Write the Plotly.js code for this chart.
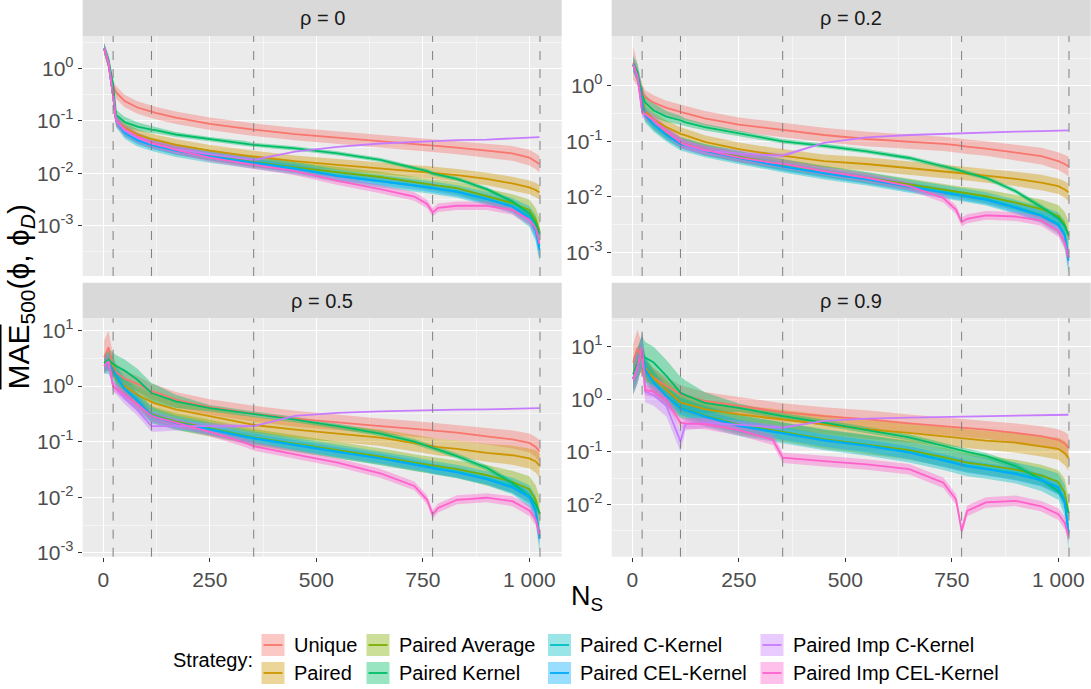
<!DOCTYPE html>
<html><head><meta charset="utf-8">
<script src="https://cdn.plot.ly/plotly-3.0.1.min.js"></script>
<style>html,body{margin:0;padding:0;background:#fff}#chart{width:1091px;height:689px}</style>
</head><body><div id="chart"></div>
<script>
// ---------- data ----------
const nS = [2, 12, 23, 30, 50, 80, 113, 125, 170, 250, 330, 353, 450, 550, 650, 730, 760, 773, 786, 830, 900, 960, 1000, 1015, 1024];
const strategies = ["Unique","Paired","Paired Average","Paired Kernel","Paired C-Kernel","Paired CEL-Kernel","Paired Imp C-Kernel","Paired Imp CEL-Kernel"];
const colors = ["#F8766D","#CD9600","#7CAE00","#00BE67","#00BFC4","#00A9FF","#C77CFF","#FF61CC"];
const facetLabels = ["ρ = 0","ρ = 0.2","ρ = 0.5","ρ = 0.9"];
const cutoffs = [23, 113, 353, 773, 1025];
const xTickVals = [0, 250, 500, 750, 1000];
const xTickText = ["0", "250", "500", "750", "1 000"];
const yTickVals = [0.001, 0.01, 0.1, 1, 10];
const yTickText = ["10<sup>-3</sup>", "10<sup>-2</sup>", "10<sup>-1</sup>", "10<sup>0</sup>", "10<sup>1</sup>"];

// rho = 0 : mean MAE
const r0_unique = [2.3, 1.2, 0.47, 0.35, 0.24, 0.18, 0.15, 0.14, 0.115, 0.088, 0.072, 0.068, 0.056, 0.048, 0.041, 0.036, 0.035, 0.034, 0.033, 0.031, 0.027, 0.024, 0.02, 0.017, 0.015];
const r0_paired = [2.4, 1.3, 0.3, 0.1, 0.075, 0.055, 0.045, 0.043, 0.035, 0.027, 0.022, 0.021, 0.017, 0.0145, 0.0125, 0.011, 0.0105, 0.0103, 0.01, 0.0092, 0.0078, 0.0064, 0.0054, 0.0048, 0.0043];
const r0_avg = [2.4, 1.3, 0.3, 0.1, 0.065, 0.047, 0.038, 0.036, 0.029, 0.022, 0.0175, 0.0165, 0.013, 0.0105, 0.0085, 0.0068, 0.0062, 0.006, 0.0058, 0.0052, 0.0037, 0.0027, 0.002, 0.0013, 0.0008];
const r0_kernel = [2.4, 1.5, 0.5, 0.13, 0.095, 0.078, 0.068, 0.066, 0.055, 0.045, 0.038, 0.035, 0.03, 0.024, 0.018, 0.0125, 0.011, 0.01, 0.0095, 0.0078, 0.005, 0.0029, 0.0017, 0.0011, 0.0007];
const r0_ck = [2.4, 1.3, 0.3, 0.1, 0.06, 0.043, 0.035, 0.033, 0.027, 0.021, 0.017, 0.016, 0.0125, 0.009, 0.0072, 0.006, 0.0055, 0.0053, 0.0051, 0.0045, 0.0033, 0.0024, 0.0015, 0.0009, 0.0004];
const r0_cel = [2.4, 1.3, 0.3, 0.1, 0.06, 0.043, 0.035, 0.033, 0.027, 0.021, 0.017, 0.016, 0.0122, 0.0088, 0.0071, 0.0059, 0.0054, 0.0052, 0.005, 0.0044, 0.0032, 0.0023, 0.0014, 0.0008, 0.00035];
const r0_impc = [2.4, 1.3, 0.3, 0.1, 0.065, 0.047, 0.037, 0.035, 0.029, 0.023, 0.019, 0.018, 0.026, 0.032, 0.037, 0.04, 0.041, 0.041, 0.042, 0.043, 0.044, 0.046, 0.048, 0.049, 0.049];
const r0_impcel = [2.4, 1.3, 0.3, 0.1, 0.07, 0.05, 0.038, 0.036, 0.028, 0.02, 0.0155, 0.0145, 0.011, 0.0072, 0.005, 0.0036, 0.0026, 0.0018, 0.0022, 0.0024, 0.0024, 0.002, 0.0013, 0.0009, 0.00045];
// rho = 0 : ribbon half-width (log10 units)
const r0_unique_w = [0.1, 0.1, 0.1, 0.12, 0.12, 0.12, 0.12, 0.12, 0.12, 0.12, 0.12, 0.12, 0.12, 0.12, 0.12, 0.12, 0.12, 0.12, 0.12, 0.13, 0.13, 0.14, 0.15, 0.15, 0.16];
const r0_paired_w = [0.1, 0.1, 0.1, 0.1, 0.1, 0.1, 0.1, 0.1, 0.11, 0.11, 0.11, 0.11, 0.11, 0.11, 0.11, 0.11, 0.12, 0.12, 0.12, 0.12, 0.12, 0.13, 0.13, 0.14, 0.14];
const r0_avg_w = [0.1, 0.1, 0.1, 0.1, 0.1, 0.1, 0.1, 0.1, 0.1, 0.1, 0.1, 0.1, 0.1, 0.1, 0.1, 0.1, 0.1, 0.1, 0.11, 0.12, 0.14, 0.17, 0.2, 0.22, 0.24];
const r0_kernel_w = [0.1, 0.1, 0.1, 0.1, 0.1, 0.08, 0.07, 0.06, 0.05, 0.04, 0.04, 0.04, 0.04, 0.04, 0.04, 0.04, 0.04, 0.04, 0.04, 0.04, 0.04, 0.04, 0.05, 0.05, 0.06];
const r0_ck_w = [0.1, 0.1, 0.12, 0.12, 0.12, 0.12, 0.12, 0.12, 0.12, 0.12, 0.12, 0.12, 0.12, 0.12, 0.12, 0.12, 0.12, 0.12, 0.12, 0.12, 0.13, 0.15, 0.2, 0.25, 0.3];
const r0_cel_w = [0.08, 0.08, 0.08, 0.08, 0.08, 0.08, 0.08, 0.08, 0.08, 0.08, 0.08, 0.08, 0.08, 0.08, 0.08, 0.08, 0.08, 0.08, 0.08, 0.08, 0.09, 0.1, 0.12, 0.15, 0.2];
const r0_impc_w = [0.1, 0.1, 0.1, 0.1, 0.1, 0.1, 0.09, 0.09, 0.08, 0.07, 0.05, 0.04, 0, 0, 0, 0, 0, 0, 0, 0, 0, 0, 0, 0, 0];
const r0_impcel_w = [0.08, 0.08, 0.08, 0.08, 0.08, 0.08, 0.08, 0.08, 0.08, 0.08, 0.08, 0.08, 0.08, 0.08, 0.08, 0.08, 0.08, 0.08, 0.08, 0.08, 0.08, 0.09, 0.1, 0.12, 0.15];

// rho = 0.2
const r2_unique = [2.6, 1.6, 0.8, 0.62, 0.5, 0.4, 0.34, 0.32, 0.26, 0.2, 0.168, 0.16, 0.13, 0.11, 0.1, 0.09, 0.085, 0.082, 0.08, 0.074, 0.063, 0.054, 0.044, 0.039, 0.035];
const r2_paired = [2.4, 1.5, 0.6, 0.35, 0.25, 0.18, 0.136, 0.128, 0.098, 0.072, 0.058, 0.055, 0.044, 0.039, 0.033, 0.029, 0.028, 0.027, 0.026, 0.024, 0.021, 0.018, 0.0155, 0.0135, 0.012];
const r2_avg = [2.4, 1.5, 0.5, 0.3, 0.2, 0.135, 0.095, 0.089, 0.07, 0.053, 0.041, 0.038, 0.029, 0.022, 0.0165, 0.0135, 0.0125, 0.012, 0.0115, 0.0102, 0.0078, 0.006, 0.0045, 0.0032, 0.002];
const r2_kernel = [2.5, 1.8, 0.7, 0.5, 0.36, 0.28, 0.24, 0.22, 0.18, 0.14, 0.108, 0.1, 0.083, 0.066, 0.05, 0.036, 0.031, 0.029, 0.027, 0.022, 0.0126, 0.0065, 0.0041, 0.003, 0.002];
const r2_ck = [2.4, 1.5, 0.5, 0.3, 0.2, 0.13, 0.09, 0.085, 0.068, 0.051, 0.039, 0.036, 0.027, 0.021, 0.0155, 0.0125, 0.0115, 0.011, 0.0105, 0.0092, 0.0066, 0.0047, 0.0033, 0.0021, 0.0008];
const r2_cel = [2.4, 1.5, 0.5, 0.3, 0.2, 0.13, 0.09, 0.085, 0.067, 0.05, 0.038, 0.035, 0.0265, 0.0205, 0.015, 0.012, 0.011, 0.0105, 0.01, 0.0088, 0.0063, 0.0045, 0.0031, 0.002, 0.0007];
const r2_impc = [2.4, 1.5, 0.35, 0.31, 0.24, 0.15, 0.096, 0.085, 0.068, 0.06, 0.056, 0.055, 0.094, 0.118, 0.13, 0.137, 0.14, 0.14, 0.141, 0.145, 0.15, 0.153, 0.156, 0.157, 0.158];
const r2_impcel = [2.4, 1.5, 0.35, 0.31, 0.24, 0.15, 0.096, 0.088, 0.07, 0.051, 0.041, 0.039, 0.029, 0.022, 0.0155, 0.0095, 0.0058, 0.0035, 0.004, 0.0046, 0.0044, 0.0037, 0.0024, 0.0015, 0.0008];
const r2_unique_w = [0.3, 0.2, 0.14, 0.13, 0.13, 0.13, 0.13, 0.13, 0.13, 0.13, 0.13, 0.13, 0.13, 0.13, 0.13, 0.13, 0.13, 0.13, 0.13, 0.13, 0.14, 0.15, 0.16, 0.17, 0.18];
const r2_paired_w = [0.12, 0.12, 0.12, 0.12, 0.12, 0.12, 0.12, 0.12, 0.12, 0.12, 0.12, 0.12, 0.12, 0.12, 0.12, 0.12, 0.12, 0.12, 0.12, 0.13, 0.13, 0.14, 0.14, 0.15, 0.16];
const r2_avg_w = [0.1, 0.1, 0.1, 0.1, 0.1, 0.1, 0.1, 0.1, 0.1, 0.1, 0.1, 0.1, 0.1, 0.1, 0.1, 0.1, 0.1, 0.1, 0.11, 0.12, 0.14, 0.17, 0.2, 0.22, 0.25];
const r2_kernel_w = [0.15, 0.15, 0.15, 0.15, 0.13, 0.1, 0.08, 0.07, 0.06, 0.05, 0.04, 0.04, 0.04, 0.04, 0.04, 0.04, 0.04, 0.04, 0.04, 0.04, 0.04, 0.05, 0.05, 0.06, 0.06];
const r2_ck_w = [0.12, 0.12, 0.14, 0.14, 0.13, 0.12, 0.12, 0.12, 0.12, 0.12, 0.12, 0.12, 0.12, 0.12, 0.12, 0.12, 0.12, 0.12, 0.12, 0.12, 0.13, 0.15, 0.2, 0.25, 0.3];
const r2_cel_w = [0.08, 0.08, 0.08, 0.08, 0.08, 0.08, 0.08, 0.08, 0.08, 0.08, 0.08, 0.08, 0.08, 0.08, 0.08, 0.08, 0.08, 0.08, 0.08, 0.08, 0.09, 0.1, 0.12, 0.15, 0.2];
const r2_impc_w = [0.12, 0.12, 0.12, 0.1, 0.1, 0.1, 0.09, 0.09, 0.08, 0.07, 0.05, 0.04, 0, 0, 0, 0, 0, 0, 0, 0, 0, 0, 0, 0, 0];
const r2_impcel_w = [0.08, 0.08, 0.08, 0.08, 0.08, 0.08, 0.08, 0.08, 0.08, 0.08, 0.08, 0.08, 0.08, 0.08, 0.08, 0.08, 0.08, 0.08, 0.08, 0.08, 0.08, 0.09, 0.1, 0.12, 0.15];

// rho = 0.5
const r5_unique = [3.3, 5.0, 2.3, 1.8, 1.35, 1.1, 0.8, 0.76, 0.57, 0.42, 0.34, 0.32, 0.26, 0.22, 0.19, 0.17, 0.162, 0.158, 0.155, 0.145, 0.125, 0.11, 0.095, 0.08, 0.067];
const r5_paired = [2.6, 3.0, 2.3, 1.4, 1.0, 0.7, 0.52, 0.48, 0.38, 0.29, 0.215, 0.2, 0.165, 0.14, 0.118, 0.094, 0.086, 0.082, 0.08, 0.074, 0.063, 0.057, 0.05, 0.044, 0.037];
const r5_avg = [2.4, 2.6, 2.0, 1.5, 0.9, 0.55, 0.31, 0.29, 0.23, 0.175, 0.13, 0.12, 0.092, 0.07, 0.054, 0.042, 0.039, 0.037, 0.036, 0.032, 0.025, 0.019, 0.014, 0.009, 0.005];
const r5_kernel = [2.6, 3.0, 2.5, 2.3, 1.9, 1.3, 0.75, 0.7, 0.53, 0.4, 0.33, 0.31, 0.25, 0.19, 0.14, 0.1, 0.085, 0.077, 0.072, 0.055, 0.034, 0.018, 0.0105, 0.0075, 0.0052];
const r5_ck = [2.4, 2.6, 2.0, 1.5, 0.9, 0.55, 0.3, 0.28, 0.22, 0.17, 0.125, 0.117, 0.089, 0.067, 0.051, 0.04, 0.036, 0.034, 0.033, 0.029, 0.022, 0.016, 0.0104, 0.006, 0.002];
const r5_cel = [2.4, 2.6, 2.0, 1.5, 0.9, 0.55, 0.29, 0.27, 0.215, 0.165, 0.122, 0.114, 0.087, 0.065, 0.05, 0.039, 0.035, 0.033, 0.032, 0.028, 0.021, 0.015, 0.01, 0.0055, 0.0018];
const r5_impc = [2.3, 2.8, 1.0, 0.9, 0.6, 0.37, 0.19, 0.19, 0.19, 0.19, 0.19, 0.19, 0.29, 0.33, 0.35, 0.365, 0.37, 0.37, 0.372, 0.376, 0.38, 0.39, 0.395, 0.4, 0.4];
const r5_impcel = [2.3, 2.8, 1.0, 0.9, 0.7, 0.47, 0.29, 0.27, 0.22, 0.15, 0.097, 0.083, 0.059, 0.042, 0.027, 0.016, 0.009, 0.0049, 0.0064, 0.009, 0.0098, 0.0085, 0.0058, 0.004, 0.0021];
const r5_unique_w = [0.3, 0.3, 0.2, 0.15, 0.14, 0.14, 0.14, 0.14, 0.14, 0.14, 0.14, 0.14, 0.14, 0.14, 0.14, 0.14, 0.14, 0.14, 0.14, 0.14, 0.15, 0.16, 0.17, 0.18, 0.2];
const r5_paired_w = [0.15, 0.15, 0.15, 0.15, 0.15, 0.15, 0.15, 0.15, 0.15, 0.15, 0.15, 0.15, 0.15, 0.15, 0.15, 0.15, 0.15, 0.15, 0.15, 0.15, 0.16, 0.17, 0.18, 0.2, 0.22];
const r5_avg_w = [0.15, 0.15, 0.15, 0.15, 0.15, 0.15, 0.15, 0.15, 0.15, 0.15, 0.15, 0.15, 0.15, 0.15, 0.15, 0.15, 0.15, 0.15, 0.15, 0.16, 0.18, 0.2, 0.23, 0.26, 0.3];
const r5_kernel_w = [0.15, 0.2, 0.2, 0.2, 0.2, 0.2, 0.18, 0.17, 0.12, 0.06, 0.05, 0.05, 0.05, 0.05, 0.05, 0.05, 0.05, 0.05, 0.05, 0.05, 0.05, 0.05, 0.05, 0.06, 0.06];
const r5_ck_w = [0.15, 0.2, 0.2, 0.2, 0.2, 0.18, 0.15, 0.14, 0.13, 0.12, 0.12, 0.12, 0.12, 0.12, 0.12, 0.12, 0.12, 0.12, 0.12, 0.12, 0.13, 0.15, 0.2, 0.25, 0.3];
const r5_cel_w = [0.09, 0.09, 0.09, 0.09, 0.09, 0.09, 0.09, 0.09, 0.09, 0.09, 0.09, 0.09, 0.09, 0.09, 0.09, 0.09, 0.09, 0.09, 0.09, 0.09, 0.09, 0.1, 0.12, 0.13, 0.15];
const r5_impc_w = [0.15, 0.15, 0.1, 0.1, 0.1, 0.1, 0.1, 0.1, 0.08, 0.06, 0.03, 0.02, 0, 0, 0, 0, 0, 0, 0, 0, 0, 0, 0, 0, 0];
const r5_impcel_w = [0.08, 0.08, 0.08, 0.08, 0.08, 0.08, 0.08, 0.08, 0.08, 0.08, 0.08, 0.08, 0.08, 0.08, 0.08, 0.08, 0.08, 0.08, 0.08, 0.08, 0.08, 0.09, 0.1, 0.11, 0.12];

// rho = 0.9
const r9_unique = [5, 9.5, 5.5, 3.5, 2.6, 1.8, 1.25, 1.18, 0.93, 0.75, 0.61, 0.57, 0.48, 0.42, 0.35, 0.31, 0.3, 0.29, 0.285, 0.265, 0.23, 0.2, 0.17, 0.145, 0.12];
const r9_paired = [3, 5, 7, 4, 2.5, 1.5, 0.87, 0.82, 0.65, 0.52, 0.44, 0.42, 0.34, 0.27, 0.23, 0.2, 0.185, 0.18, 0.177, 0.165, 0.15, 0.13, 0.115, 0.095, 0.078];
const r9_avg = [2.5, 4, 9, 3.7, 2.1, 1.15, 0.7, 0.65, 0.49, 0.33, 0.26, 0.24, 0.175, 0.138, 0.108, 0.08, 0.07, 0.066, 0.063, 0.056, 0.046, 0.036, 0.027, 0.017, 0.007];
const r9_kernel = [3, 5, 8, 6.2, 5.0, 2.8, 1.34, 1.2, 0.86, 0.69, 0.52, 0.48, 0.36, 0.26, 0.19, 0.13, 0.112, 0.105, 0.1, 0.084, 0.054, 0.03, 0.018, 0.012, 0.007];
const r9_ck = [2.5, 4, 9, 3.7, 2.1, 1.15, 0.69, 0.64, 0.48, 0.32, 0.25, 0.23, 0.17, 0.134, 0.1, 0.072, 0.062, 0.058, 0.055, 0.049, 0.04, 0.03, 0.022, 0.012, 0.003];
const r9_cel = [2.5, 4, 9, 3.7, 2.1, 1.15, 0.67, 0.62, 0.47, 0.31, 0.245, 0.225, 0.165, 0.13, 0.097, 0.07, 0.06, 0.056, 0.053, 0.047, 0.038, 0.029, 0.021, 0.011, 0.0028];
const r9_impc = [2.4, 4, 9.5, 1.4, 1.2, 0.75, 0.16, 0.34, 0.36, 0.33, 0.3, 0.29, 0.39, 0.43, 0.45, 0.46, 0.465, 0.47, 0.47, 0.475, 0.48, 0.49, 0.5, 0.505, 0.51];
const r9_impcel = [2.4, 4, 9.5, 1.5, 1.4, 0.95, 0.36, 0.35, 0.34, 0.26, 0.17, 0.078, 0.067, 0.058, 0.047, 0.026, 0.0125, 0.0032, 0.0076, 0.011, 0.0118, 0.0093, 0.0066, 0.0045, 0.0026];
const r9_unique_w = [0.35, 0.35, 0.3, 0.2, 0.18, 0.17, 0.17, 0.17, 0.17, 0.17, 0.17, 0.17, 0.17, 0.17, 0.17, 0.17, 0.17, 0.17, 0.17, 0.17, 0.18, 0.19, 0.2, 0.22, 0.25];
const r9_paired_w = [0.3, 0.3, 0.3, 0.2, 0.18, 0.18, 0.18, 0.18, 0.18, 0.18, 0.18, 0.18, 0.18, 0.18, 0.18, 0.18, 0.18, 0.18, 0.18, 0.18, 0.19, 0.2, 0.21, 0.23, 0.25];
const r9_avg_w = [0.3, 0.3, 0.3, 0.2, 0.2, 0.18, 0.18, 0.18, 0.18, 0.18, 0.18, 0.18, 0.18, 0.18, 0.18, 0.18, 0.18, 0.18, 0.18, 0.18, 0.19, 0.2, 0.22, 0.26, 0.3];
const r9_kernel_w = [0.3, 0.3, 0.3, 0.3, 0.3, 0.3, 0.3, 0.28, 0.2, 0.08, 0.06, 0.06, 0.06, 0.06, 0.06, 0.06, 0.06, 0.06, 0.06, 0.06, 0.06, 0.06, 0.06, 0.07, 0.07];
const r9_ck_w = [0.3, 0.3, 0.3, 0.25, 0.22, 0.2, 0.2, 0.2, 0.2, 0.2, 0.2, 0.2, 0.2, 0.2, 0.2, 0.2, 0.2, 0.2, 0.2, 0.2, 0.2, 0.22, 0.25, 0.3, 0.35];
const r9_cel_w = [0.12, 0.12, 0.12, 0.12, 0.12, 0.12, 0.12, 0.12, 0.12, 0.12, 0.12, 0.12, 0.12, 0.12, 0.12, 0.12, 0.12, 0.12, 0.12, 0.12, 0.12, 0.12, 0.13, 0.14, 0.15];
const r9_impc_w = [0.3, 0.3, 0.3, 0.2, 0.2, 0.2, 0.2, 0.12, 0.1, 0.08, 0.05, 0.03, 0, 0, 0, 0, 0, 0, 0, 0, 0, 0, 0, 0, 0];
const r9_impcel_w = [0.1, 0.1, 0.1, 0.1, 0.1, 0.1, 0.1, 0.1, 0.1, 0.1, 0.1, 0.1, 0.1, 0.1, 0.1, 0.1, 0.1, 0.1, 0.1, 0.1, 0.1, 0.1, 0.11, 0.12, 0.13];

// y-axis ranges per facet (log10 units)
const yRanges = [[-3.96, 0.62], [-3.43, 0.90], [-3.07, 1.22], [-2.99, 1.54]];

// ---------- assemble ----------
const facetMeans = [
  [r0_unique, r0_paired, r0_avg, r0_kernel, r0_ck, r0_cel, r0_impc, r0_impcel],
  [r2_unique, r2_paired, r2_avg, r2_kernel, r2_ck, r2_cel, r2_impc, r2_impcel],
  [r5_unique, r5_paired, r5_avg, r5_kernel, r5_ck, r5_cel, r5_impc, r5_impcel],
  [r9_unique, r9_paired, r9_avg, r9_kernel, r9_ck, r9_cel, r9_impc, r9_impcel]
];
const facetBands = [
  [r0_unique_w, r0_paired_w, r0_avg_w, r0_kernel_w, r0_ck_w, r0_cel_w, r0_impc_w, r0_impcel_w],
  [r2_unique_w, r2_paired_w, r2_avg_w, r2_kernel_w, r2_ck_w, r2_cel_w, r2_impc_w, r2_impcel_w],
  [r5_unique_w, r5_paired_w, r5_avg_w, r5_kernel_w, r5_ck_w, r5_cel_w, r5_impc_w, r5_impcel_w],
  [r9_unique_w, r9_paired_w, r9_avg_w, r9_kernel_w, r9_ck_w, r9_cel_w, r9_impc_w, r9_impcel_w]
];

function rgba(hex, a) {
  const r = parseInt(hex.slice(1,3),16), g = parseInt(hex.slice(3,5),16), b = parseInt(hex.slice(5,7),16);
  return `rgba(${r},${g},${b},${a})`;
}

const W = 1091, H = 689;
const px = v => v / W, py = v => 1 - v / H;
const colX = [[82.7, 561.7], [611.7, 1090.7]];
const rowY = [[36, 276], [318.3, 556.7]];
const stripY = [[0, 36], [282.7, 318.3]];

const traces = [];
const layout = {
  width: W, height: H,
  margin: {l: 0, r: 0, t: 0, b: 0},
  paper_bgcolor: '#FFFFFF', plot_bgcolor: '#EBEBEB',
  showlegend: false,
  font: {family: 'Liberation Sans, Arial, sans-serif', color: '#1A1A1A'},
  shapes: [], annotations: []
};

facetMeans.forEach((means, fi) => {
  const suffix = fi === 0 ? '' : String(fi + 1);
  const xa = 'x' + suffix, ya = 'y' + suffix;
  const col = fi % 2, row = Math.floor(fi / 2);
  const bottom = row === 1;
  layout['xaxis' + suffix] = {
    domain: [px(colX[col][0]), px(colX[col][1])],
    anchor: ya, range: [-48.4, 1076],
    tickmode: 'array', tickvals: xTickVals, ticktext: xTickText,
    showticklabels: bottom, ticks: bottom ? 'outside' : '', ticklen: 4, tickwidth: 1, tickcolor: '#333333',
    tickfont: {size: 21, color: '#4D4D4D'},
    showgrid: true, gridcolor: '#FFFFFF', gridwidth: 1.1,
    minor: {tickmode: 'array', tickvals: [125, 375, 625, 875], showgrid: true, gridcolor: '#FFFFFF', gridwidth: 0.5, ticks: ''},
    zeroline: false, showline: false, fixedrange: true
  };
  const half = [];
  for (let e = -4; e <= 1; e++) half.push(Math.pow(10, e + 0.5));
  layout['yaxis' + suffix] = {
    domain: [py(rowY[row][1]), py(rowY[row][0])],
    anchor: xa, type: 'log', range: yRanges[fi],
    tickmode: 'array', tickvals: yTickVals, ticktext: yTickText,
    ticks: 'outside', ticklen: 4, tickwidth: 1, tickcolor: '#333333',
    tickfont: {size: 21, color: '#4D4D4D'},
    showgrid: true, gridcolor: '#FFFFFF', gridwidth: 1.1,
    minor: {tickmode: 'array', tickvals: half, showgrid: true, gridcolor: '#FFFFFF', gridwidth: 0.5, ticks: ''},
    zeroline: false, showline: false, fixedrange: true
  };
  // ribbons
  means.forEach((m, si) => {
    const w = facetBands[fi][si];
    const lo = m.map((v, i) => v / Math.pow(10, w[i]));
    const hi = m.map((v, i) => v * Math.pow(10, w[i]));
    traces.push({x: nS, y: lo, xaxis: xa, yaxis: ya, type: 'scatter', mode: 'lines',
      line: {width: 0, color: colors[si]}, hoverinfo: 'skip', showlegend: false});
    traces.push({x: nS, y: hi, xaxis: xa, yaxis: ya, type: 'scatter', mode: 'lines',
      line: {width: 0, color: colors[si]}, fill: 'tonexty', fillcolor: rgba(colors[si], 0.4),
      hoverinfo: 'skip', showlegend: false});
  });
  // lines
  means.forEach((m, si) => {
    traces.push({x: nS, y: m, xaxis: xa, yaxis: ya, type: 'scatter', mode: 'lines',
      name: strategies[si], line: {width: 1.8, color: colors[si]}, showlegend: false});
  });
  // dashed cut lines
  cutoffs.forEach(c => {
    layout.shapes.push({type: 'line', xref: xa, yref: ya + ' domain', x0: c, x1: c, y0: 0, y1: 1,
      line: {color: '#7F7F7F', width: 1, dash: 'dash'}, layer: 'above'});
  });
  // strip
  layout.shapes.push({type: 'rect', xref: 'paper', yref: 'paper',
    x0: px(colX[col][0]), x1: px(colX[col][1]), y0: py(stripY[row][1]), y1: py(stripY[row][0]),
    fillcolor: '#D9D9D9', line: {width: 0}, layer: 'below'});
  layout.annotations.push({xref: 'paper', yref: 'paper', x: px((colX[col][0] + colX[col][1]) / 2),
    y: py((stripY[row][0] + stripY[row][1]) / 2), xanchor: 'center', yanchor: 'middle',
    text: facetLabels[fi], showarrow: false, font: {size: 20, color: '#1A1A1A'}});
});

// axis titles
layout.annotations.push({xref: 'paper', yref: 'paper', x: px(20), y: py(296.5), xanchor: 'center', yanchor: 'middle',
  textangle: -90, showarrow: false, font: {size: 30, color: '#000000'},
  text: '<span style="text-decoration:overline">MAE</span><sub>500</sub>(ϕ, ϕ<sub><i>D</i></sub>)'});
layout.annotations.push({xref: 'paper', yref: 'paper', x: px(586.7), y: py(598), xanchor: 'center', yanchor: 'middle',
  showarrow: false, font: {size: 27, color: '#000000'}, text: 'N<sub>S</sub>'});

// legend (manual, ggplot style)
layout.annotations.push({xref: 'paper', yref: 'paper', x: px(255), y: py(660), xanchor: 'right', yanchor: 'middle',
  showarrow: false, font: {size: 20, color: '#000000'}, text: 'Strategy:'});
const legendColX = [261.5, 366.5, 548, 760.5];
const legendRowY = [634, 662];
strategies.forEach((s, si) => {
  const c = Math.floor(si / 2), r = si % 2;
  const x0 = legendColX[c], y0 = legendRowY[r];
  layout.shapes.push({type: 'rect', xref: 'paper', yref: 'paper', x0: px(x0), x1: px(x0 + 23), y0: py(y0 + 22), y1: py(y0),
    fillcolor: rgba(colors[si], 0.4), line: {width: 0}});
  layout.shapes.push({type: 'line', xref: 'paper', yref: 'paper', x0: px(x0 + 2), x1: px(x0 + 21), y0: py(y0 + 11), y1: py(y0 + 11),
    line: {color: colors[si], width: 1.8}});
  layout.annotations.push({xref: 'paper', yref: 'paper', x: px(x0 + 30), y: py(y0 + 11), xanchor: 'left', yanchor: 'middle',
    showarrow: false, font: {size: 20, color: '#000000'}, text: s});
});

Plotly.newPlot('chart', traces, layout, {displayModeBar: false, staticPlot: true});
</script>
</body></html>
